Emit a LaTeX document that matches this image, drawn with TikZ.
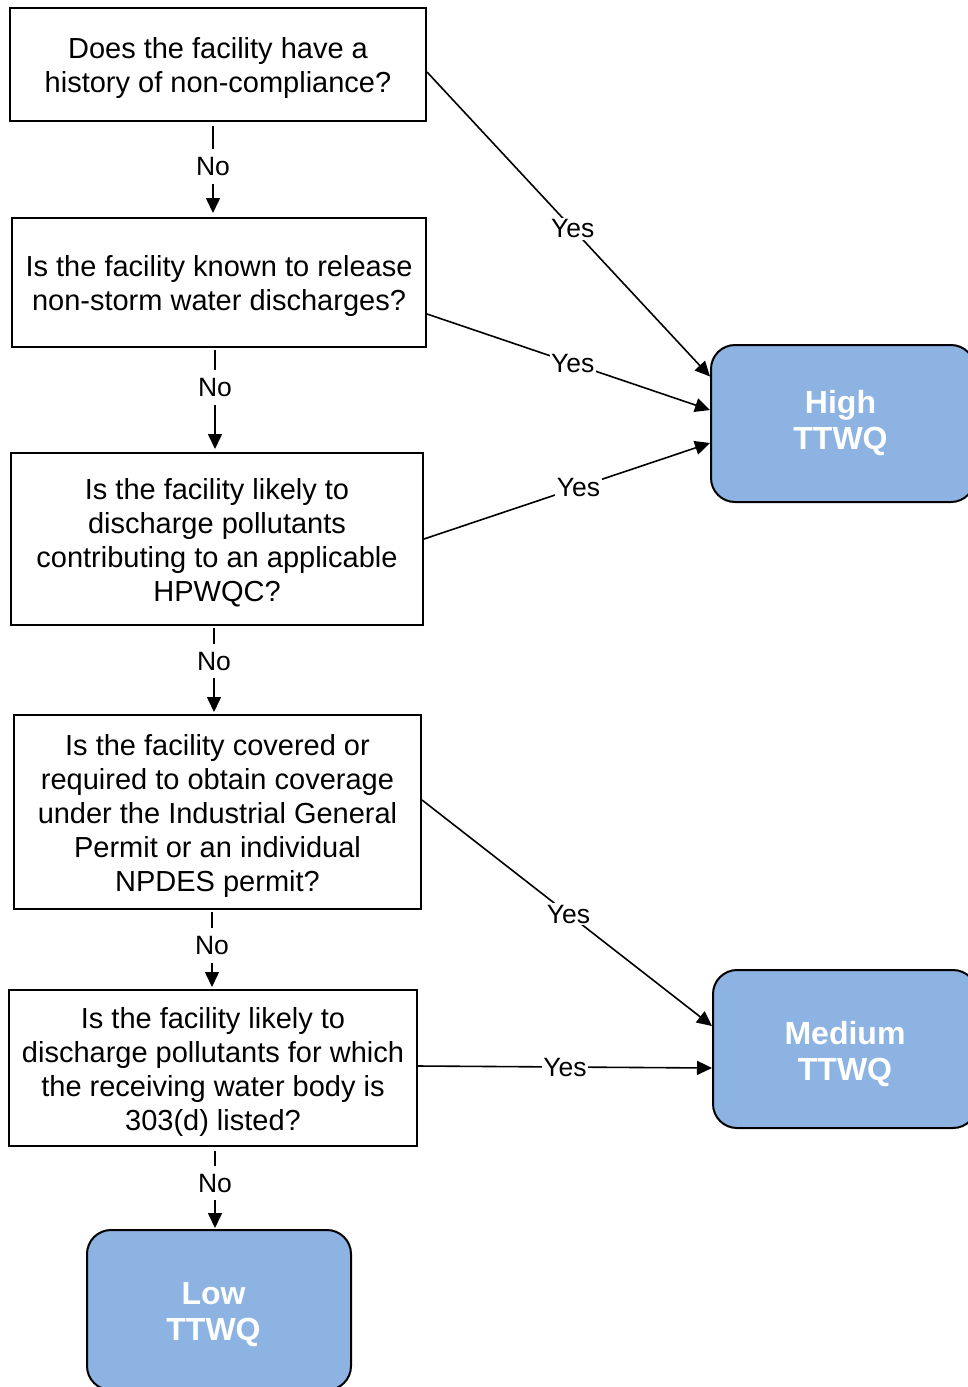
\documentclass[tikz,border=0pt]{standalone}
\usepackage{fontspec}
\setmainfont{Liberation Sans}
\usetikzlibrary{arrows.meta}
\definecolor{ttwq}{RGB}{141,179,226}
\newcommand\tstrut[1]{\rule{0pt}{#1}}
\begin{document}
\begin{tikzpicture}[x=1pt,y=-1pt,
 qbox/.style={draw, line width=2pt, align=center, inner sep=0pt, font=\fontsize{29}{34}\selectfont},
 rbox/.style={draw, line width=2pt, fill=ttwq, rounded corners=24pt, align=center, text=white, font=\fontsize{32}{36}\selectfont\bfseries, inner sep=0pt, minimum width=264pt},
 flow/.style={line width=1.6pt, -{Triangle[length=15pt,width=14pt]}},
 yeslab/.style={fill=white, inner xsep=1.5pt, inner ysep=2pt, font=\fontsize{26.5}{30}\selectfont},
 nolab/.style={fill=white, inner xsep=2pt, inner ysep=8pt, font=\fontsize{26.5}{30}\selectfont},
]
\useasboundingbox (0,0) rectangle (968,1387);
\clip (0,0) rectangle (968,1387);

\node[qbox, minimum width=416pt, minimum height=113pt] (q1) at (218,64.5) {\tstrut{28pt}Does the facility have a\\history of non-compliance?};
\node[qbox, minimum width=414pt, minimum height=129pt] (q2) at (219,282.5) {\tstrut{28pt}Is the facility known to release\\non-storm water discharges?};
\node[qbox, minimum width=412pt, minimum height=172pt] (q3) at (217,539) {\tstrut{29pt}Is the facility likely to\\discharge pollutants\\contributing to an applicable\\HPWQC?};
\node[qbox, minimum width=407pt, minimum height=194pt] (q4) at (217.5,812) {\tstrut{28pt}Is the facility covered or\\required to obtain coverage\\under the Industrial General\\Permit or an individual\\NPDES permit?};
\node[qbox, minimum width=408pt, minimum height=156pt] (q5) at (213,1068) {\tstrut{29pt}Is the facility likely to\\discharge pollutants for which\\the receiving water body is\\303(d) listed?};

\node[rbox, minimum height=157pt] (high) at (843,423.5) {High\hspace*{5pt}\\TTWQ\hspace*{5pt}};
\node[rbox, minimum height=158pt] (med) at (845,1049) {\tstrut{33pt}Medium\\TTWQ};
\node[rbox, minimum height=160pt] (low) at (219,1310) {\tstrut{31pt}Low\hspace*{11pt}\\TTWQ\hspace*{11pt}};

% No arrows
\draw[flow, shorten <=4pt, shorten >=4pt] ([xshift=-5pt]q1.south) -- node[nolab, pos=0.47]{No} ([xshift=-5pt]q1.south |- q2.north);
\draw[flow, shorten <=2pt, shorten >=3pt] ([xshift=-4pt]q2.south) -- node[nolab, pos=0.38]{No} ([xshift=-4pt]q2.south |- q3.north);
\draw[flow, shorten <=2pt, shorten >=2pt] ([xshift=-3pt]q3.south) -- node[nolab, pos=0.4]{No} ([xshift=-3pt]q3.south |- q4.north);
\draw[flow, shorten <=2pt, shorten >=2pt] ([xshift=-5.5pt]q4.south) -- node[nolab, pos=0.45]{No} ([xshift=-5.5pt]q4.south |- q5.north);
\draw[flow, shorten <=4pt, shorten >=1pt] ([xshift=2pt]q5.south) -- node[nolab, pos=0.44]{No} ([xshift=2pt]q5.south |- low.north);

% Yes arrows
\draw[flow] ([yshift=-7.5pt]q1.east) -- node[yeslab, pos=0.515]{Yes} ([yshift=47pt]high.west);
\draw[flow] ([yshift=-31.5pt]q2.east) -- node[yeslab, pos=0.515]{Yes} ([yshift=13.5pt]high.west);
\draw[flow] (q3.east) -- node[yeslab, pos=0.54]{Yes} ([yshift=-19.5pt]high.west);
\draw[flow] ([yshift=12pt]q4.east) -- node[yeslab, pos=0.505]{Yes} ([yshift=23pt]med.west);
\draw[flow] ([yshift=2pt]q5.east) -- node[yeslab, pos=0.5]{Yes} ([yshift=-19pt]med.west);
\end{tikzpicture}
\end{document}
